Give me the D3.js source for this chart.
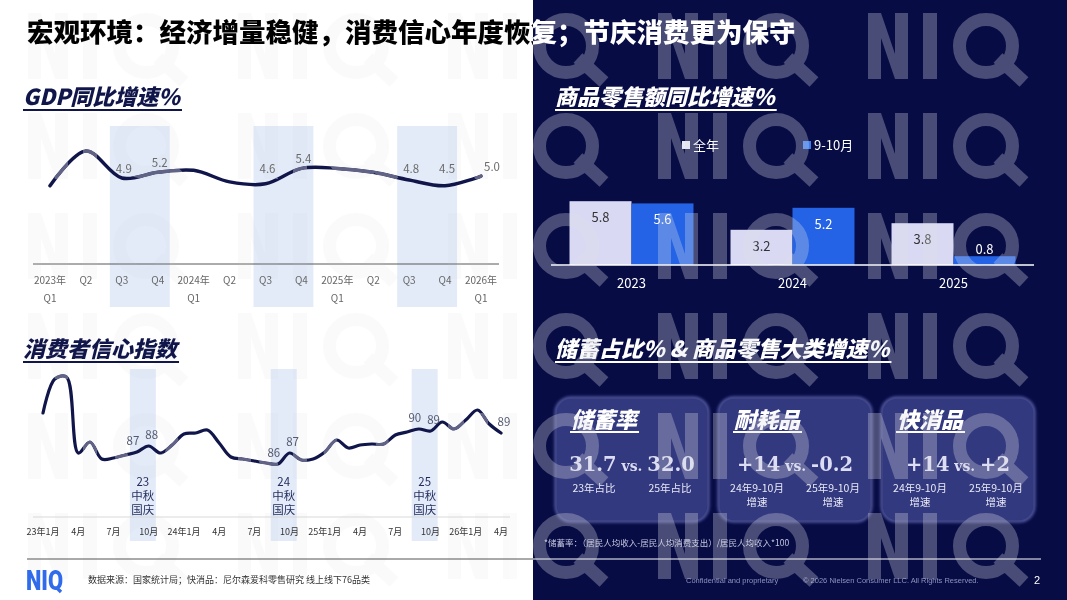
<!DOCTYPE html>
<html><head><meta charset="utf-8">
<script src="https://cdn.jsdelivr.net/npm/d3@7"></script>
<style>body{margin:0;overflow:hidden;background:#fff}svg{display:block}</style>
</head><body>
<svg id="c" width="1067" height="600"></svg>
<script>
// ---------- DATA ----------
const mainTitle = "宏观环境：经济增量稳健，消费信心年度恢复；节庆消费更为保守";

const gdpTitle = "GDP同比增速%";
const gdpQuarters = ["2023年\nQ1","Q2","Q3","Q4","2024年\nQ1","Q2","Q3","Q4","2025年\nQ1","Q2","Q3","Q4","2026年\nQ1"];
const gdpValues = [4.5,6.3,4.9,5.2,5.3,4.7,4.6,5.4,5.4,5.2,4.8,4.5,5.0];
const gdpLabeled = [2,3,6,7,10,11,12];
const gdpBands = [[2,3],[6,7],[10,11]];

const ccTitle = "消费者信心指数";
const ccValues = [
  91.2,94.6,94.8,87.2,88.3,86.6,86.7,87.0,87.3,87.9,87.2,88.0,
  89.1,89.2,89.5,88.2,86.8,86.6,86.4,86.2,86.1,87.2,86.5,86.6,
  87.3,88.5,87.7,88.0,88.1,88.1,89.0,89.3,89.6,89.4,90.3,89.6,
  90.5,91.5,90.1,89.2];
const ccTickLabels = ["23年1月","4月","7月","10月","24年1月","4月","7月","10月","25年1月","4月","7月","10月","26年1月","4月"];
const ccLabeled = [8,9,20,21,32,33,39];
const ccBands = [[8,9,"23"],[20,21,"24"],[32,33,"25"]];
const ccBandText = ["中秋","国庆"];

const retailTitle = "商品零售额同比增速%";
const retailYears = ["2023","2024","2025"];
const retailSeries = ["全年","9-10月"];
const retailFull = [5.8,3.2,3.8];
const retailSepOct = [5.6,5.2,0.8];

const cardSectionTitle = "储蓄占比% & 商品零售大类增速%";
const cardTitles = ["储蓄率","耐耗品","快消品"];
const cardLeftVals = ["31.7","+14","+14"];
const cardRightVals = ["32.0","-0.2","+2"];
const cardSubLeft = ["23年占比","24年9-10月\n增速","24年9-10月\n增速"];
const cardSubRight = ["25年占比","25年9-10月\n增速","25年9-10月\n增速"];
const footnote = "*储蓄率：（居民人均收入-居民人均消费支出）/居民人均收入*100";
const sourceText = "数据来源：国家统计局；快消品：尼尔森爱科零售研究 线上线下76品类";
const confText = "Confidential and proprietary";
const copyText = "© 2026 Nielsen Consumer LLC. All Rights Reserved.";
const pageNo = "2";

// ---------- DRAW ----------
const svg = d3.select("#c");
const CJK = "'Noto Sans CJK SC','Noto Sans',sans-serif";
const NAVY = "#070c45", DARK = "#10154a";
const SPLIT = 533;

svg.append("rect").attr("width",1067).attr("height",600).attr("fill","#fff");
svg.append("rect").attr("x",SPLIT).attr("width",1067-SPLIT).attr("height",600).attr("fill",NAVY);

const defs = svg.append("defs");
defs.append("clipPath").attr("id","clipL").append("rect").attr("x",0).attr("y",0).attr("width",SPLIT).attr("height",600);
defs.append("clipPath").attr("id","clipR").append("rect").attr("x",SPLIT).attr("y",0).attr("width",1067-SPLIT).attr("height",600);
const glow = defs.append("filter").attr("id","soft").attr("x","-10%").attr("y","-10%").attr("width","120%").attr("height","120%");
glow.append("feGaussianBlur").attr("stdDeviation",1.5);

const H = 66;
function drawWM(g, fill){
  for(let r=0;r<6;r++){
    for(let k=-1;k<=5;k++){
      const x0 = 28+210*k, y0 = 13+100*r;
      g.append("path").attr("fill",fill)
        .attr("d",`M${x0},${y0+H}V${y0}H${x0+13}L${x0+27},${y0+H*0.62}V${y0}H${x0+40}V${y0+H}H${x0+27}L${x0+13},${y0+H*0.38}V${y0+H}Z`);
      g.append("rect").attr("x",x0+55).attr("y",y0).attr("width",14).attr("height",H).attr("fill",fill);
      const qx = x0+118, qy = y0+H/2;
      g.append("circle").attr("cx",qx).attr("cy",qy).attr("r",H/2-6.5).attr("fill","none").attr("stroke",fill).attr("stroke-width",13);
      g.append("line").attr("x1",qx+12).attr("y1",qy+12).attr("x2",qx+38).attr("y2",qy+36).attr("stroke",fill).attr("stroke-width",13);
    }
  }
}

function sectionTitle(x, y, text, color, size){
  const t = svg.append("text").attr("x",x).attr("y",y).attr("font-family",CJK)
    .attr("font-size",size).attr("font-weight",900).attr("font-style","italic")
    .attr("fill",color).text(text);
  const w = t.node().getComputedTextLength();
  svg.append("rect").attr("x",x).attr("y",y+4).attr("width",w+2).attr("height",2).attr("fill",color);
}

// ===== GDP chart (marks) =====
const gx = d3.scaleLinear().domain([0,gdpValues.length-1]).range([50,481]);
const gy = d3.scaleLinear().domain([0,7]).range([272.6,137.5]);
const gStep = gx(1)-gx(0);
gdpBands.forEach(b=>{
  svg.append("rect").attr("x",gx(b[0])-gStep/3).attr("y",126)
    .attr("width",gx(b[1])-gx(b[0])+gStep*2/3).attr("height",181).attr("fill","#e3ebf8");
});
svg.append("line").attr("x1",33).attr("x2",499).attr("y1",264).attr("y2",264).attr("stroke","#595959").attr("stroke-width",1);
svg.append("path").datum(gdpValues)
  .attr("d",d3.line().x((d,i)=>gx(i)).y(d=>gy(d)).curve(d3.curveCatmullRom.alpha(0.5)))
  .attr("fill","none").attr("stroke",DARK).attr("stroke-width",3.5).attr("stroke-linecap","round");

// ===== Consumer confidence (marks) =====
const cx = d3.scaleLinear().domain([0,ccValues.length-1]).range([43,501]);
const cy = d3.scaleLinear().domain([86,90]).range([465,425]);
ccBands.forEach(b=>{
  const mid = (cx(b[0])+cx(b[1]))/2;
  svg.append("rect").attr("x",mid-13).attr("y",369).attr("width",26).attr("height",172).attr("fill","#e3ebf8");
});
svg.append("line").attr("x1",33).attr("x2",510).attr("y1",517).attr("y2",517).attr("stroke","#d9d9d9").attr("stroke-width",1);
svg.append("path").datum(ccValues)
  .attr("d",d3.line().x((d,i)=>cx(i)).y(d=>cy(d)).curve(d3.curveCatmullRom.alpha(0.5)))
  .attr("fill","none").attr("stroke",DARK).attr("stroke-width",3.2).attr("stroke-linecap","round");

// ===== White-side watermark (lightens dark marks, faint tint on white) =====
const wmL1 = svg.append("g").attr("clip-path","url(#clipL)").style("mix-blend-mode","lighten").attr("pointer-events","none");
drawWM(wmL1, "rgb(88,90,128)");
const wmL2 = svg.append("g").attr("clip-path","url(#clipL)").attr("opacity",0.08).attr("pointer-events","none");
drawWM(wmL2, "#c8c8d4");

// ===== GDP texts =====
gdpQuarters.forEach((q,i)=>{
  q.split("\n").forEach((s,k)=>{
    svg.append("text").attr("x",gx(i)).attr("y",284+k*18).attr("text-anchor","middle")
      .attr("font-family",CJK).attr("font-size",10).attr("fill","#666").text(s);
  });
});
gdpLabeled.forEach(i=>{
  const last = i===gdpValues.length-1;
  svg.append("text").attr("x",last?gx(i)+3:gx(i)+2).attr("y",Math.min(gy(gdpValues[i])-9,169)+4)
    .attr("text-anchor",last?"start":"middle").attr("font-family",CJK).attr("font-size",11.5)
    .attr("fill","#6b6b6b").text(gdpValues[i].toFixed(1));
});
sectionTitle(23,105,gdpTitle,DARK,22);

// ===== Confidence texts =====
ccBands.forEach(b=>{
  const mid = (cx(b[0])+cx(b[1]))/2;
  [b[2]].concat(ccBandText).forEach((s,k)=>{
    svg.append("text").attr("x",mid).attr("y",486+k*14).attr("text-anchor","middle")
      .attr("font-family",CJK).attr("font-size",11.5).attr("fill","#1f2a5a").text(s);
  });
});
ccTickLabels.forEach((s,k)=>{
  svg.append("text").attr("x",cx(k*3)).attr("y",535).attr("text-anchor","middle")
    .attr("font-family",CJK).attr("font-size",9).attr("fill","#333").text(s);
});
ccLabeled.forEach(i=>{
  const isSep = (i%12)===8;
  const dx = isSep ? -4 : 3;
  svg.append("text").attr("x",cx(i)+dx).attr("y",cy(ccValues[i])-7).attr("text-anchor","middle")
    .attr("font-family",CJK).attr("font-size",11.5).attr("fill","#555a70").text(Math.round(ccValues[i]));
});
sectionTitle(23,357,ccTitle,DARK,22);

// ===== Retail bars =====
sectionTitle(555,105,retailTitle,"#fff",22);
const bx0 = d3.scaleBand().domain(retailYears).range([551,1034]).paddingInner(0.23).paddingOuter(0.115);
const bx1 = d3.scaleBand().domain(retailSeries).range([0,bx0.bandwidth()]);
const by = d3.scaleLinear().domain([0,1]).range([265,254]);
const barColors = {"全年":"#d9d9f4","9-10月":"#2463e6"};
const labelColors = {"全年":"#333","9-10月":"#fff"};
const rows = retailYears.map((y,i)=>({year:y, vals:[{s:"全年",v:retailFull[i]},{s:"9-10月",v:retailSepOct[i]}]}));
const grp = svg.selectAll("g.bar").data(rows).enter().append("g").attr("class","bar").attr("transform",d=>`translate(${bx0(d.year)},0)`);
grp.selectAll("rect").data(d=>d.vals).enter().append("rect")
  .attr("x",d=>bx1(d.s)).attr("y",d=>by(d.v)).attr("width",bx1.bandwidth())
  .attr("height",d=>by(0)-by(d.v)).attr("fill",d=>barColors[d.s]);
grp.selectAll("text").data(d=>d.vals).enter().append("text")
  .attr("x",d=>bx1(d.s)+bx1.bandwidth()/2)
  .attr("y",d=>{const h=by(0)-by(d.v); return h<25 ? by(d.v)-2 : by(d.v)+21;})
  .attr("text-anchor","middle").attr("font-family",CJK).attr("font-size",13)
  .attr("fill",d=>(by(0)-by(d.v))<25 ? "#fff" : labelColors[d.s]).text(d=>d.v.toFixed(1));
svg.append("line").attr("x1",551).attr("x2",1034).attr("y1",265).attr("y2",265).attr("stroke","#fff").attr("stroke-width",1.5);
retailYears.forEach(y=>{
  svg.append("text").attr("x",bx0(y)+bx0.bandwidth()/2).attr("y",288).attr("text-anchor","middle")
    .attr("font-family",CJK).attr("font-size",13).attr("fill","#fff").text(y);
});
const legX = [682,803];
retailSeries.forEach((s,i)=>{
  svg.append("rect").attr("x",legX[i]).attr("y",141).attr("width",8).attr("height",8).attr("fill",i?"#3b7bf0":"#e8e8f8");
  svg.append("text").attr("x",legX[i]+11).attr("y",149.5).attr("font-family",CJK).attr("font-size",13).attr("fill","#fff").text(s);
});

// ===== Cards =====
sectionTitle(555,357,cardSectionTitle,"#fff",22);
const cardX = [557,720,883], cardW = 150, cardY = 399, cardH = 121;
cardTitles.forEach((ttl,i)=>{
  const x = cardX[i], c = x+cardW/2;
  svg.append("rect").attr("x",x-1).attr("y",cardY-1).attr("width",cardW+2).attr("height",cardH+2).attr("rx",15)
    .attr("fill","none").attr("stroke","#5a60a8").attr("stroke-width",3).attr("filter","url(#soft)");
  svg.append("rect").attr("x",x).attr("y",cardY).attr("width",cardW).attr("height",cardH).attr("rx",14)
    .attr("fill","#33397f");
  const t = svg.append("text").attr("x",x+14).attr("y",428).attr("font-family",CJK).attr("font-size",22)
    .attr("font-weight",900).attr("font-style","italic").attr("fill","#fff").text(ttl);
  const w = t.node().getComputedTextLength();
  svg.append("rect").attr("x",x+13).attr("y",431).attr("width",w+3).attr("height",2).attr("fill","#fff");
  const n = svg.append("text").attr("x",c).attr("y",471).attr("text-anchor","middle")
    .attr("font-family","'DejaVu Serif',Georgia,serif").attr("font-weight",700).attr("fill","#dcdcf2");
  n.append("tspan").attr("font-size",19.5).text(cardLeftVals[i]);
  n.append("tspan").attr("font-size",14).text(" vs. ");
  n.append("tspan").attr("font-size",19.5).text(cardRightVals[i]);
  [[cardSubLeft[i],c-38],[cardSubRight[i],c+38]].forEach(([s,px])=>{
    s.split("\n").forEach((line,k)=>{
      svg.append("text").attr("x",px).attr("y",492+k*14).attr("text-anchor","middle")
        .attr("font-family",CJK).attr("font-size",10.5).attr("fill","#e8e8f6").text(line);
    });
  });
});
svg.append("text").attr("x",544).attr("y",546).attr("font-family",CJK).attr("font-size",8.5).attr("fill","#c4c6de").text(footnote);

// ===== Footer =====
svg.append("line").attr("x1",27).attr("x2",SPLIT).attr("y1",559).attr("y2",559).attr("stroke","#555").attr("stroke-width",1);
svg.append("line").attr("x1",SPLIT).attr("x2",1041).attr("y1",559).attr("y2",559).attr("stroke","#fff").attr("stroke-width",1);
svg.append("text").attr("x",26).attr("y",590).attr("font-family","Roboto,'Liberation Sans',sans-serif").attr("font-weight",900)
  .attr("font-size",28).attr("fill","#2f6bea").attr("textLength",37).attr("lengthAdjust","spacingAndGlyphs").text("NIQ");
svg.append("text").attr("x",88).attr("y",583).attr("font-family",CJK).attr("font-size",9).attr("fill","#333").text(sourceText);
svg.append("text").attr("x",686).attr("y",583).attr("font-family","'Liberation Sans',Arial,sans-serif").attr("font-size",7.5).attr("fill","#8d93bd").text(confText);
svg.append("text").attr("x",803).attr("y",583).attr("font-family","'Liberation Sans',Arial,sans-serif").attr("font-size",7.5).attr("fill","#8d93bd").text(copyText);
svg.append("text").attr("x",1034).attr("y",584).attr("font-family","'Liberation Sans',Arial,sans-serif").attr("font-size",11).attr("fill","#fff").text(pageNo);

// ===== Navy-side watermark =====
const wmR = svg.append("g").attr("clip-path","url(#clipR)").attr("opacity",0.3).attr("pointer-events","none");
drawWM(wmR, "#e0e0e6");

// ===== Main title (dark on white, white on navy) =====
["clipL","clipR"].forEach((cid,k)=>{
  svg.append("text").attr("x",27).attr("y",42).attr("font-family",CJK).attr("font-size",26.5)
    .attr("font-weight",900).attr("fill",k? "#fff":"#000").attr("clip-path",`url(#${cid})`).text(mainTitle);
});
</script>
</body></html>
